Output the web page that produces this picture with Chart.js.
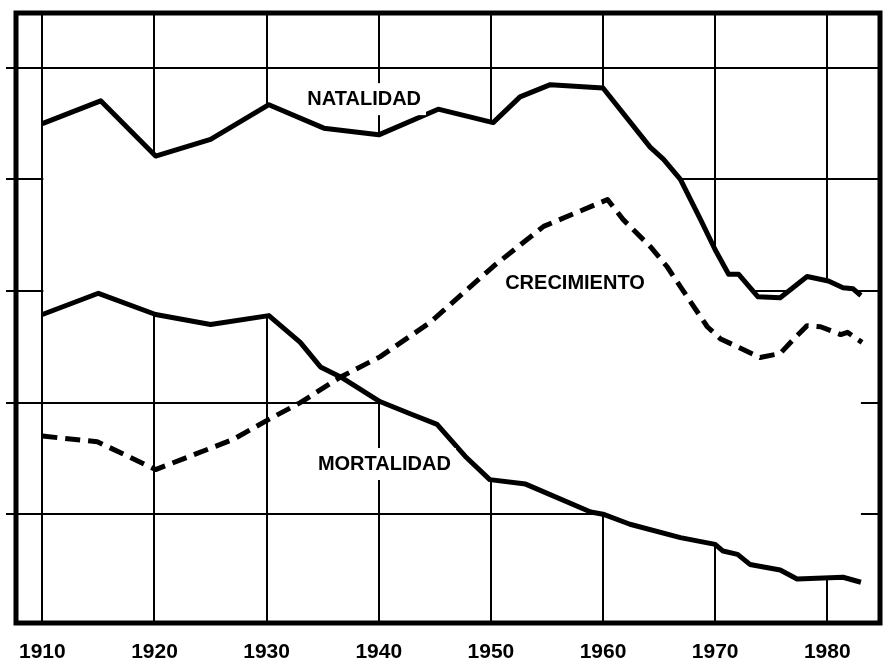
<!DOCTYPE html>
<html>
<head>
<meta charset="utf-8">
<script src="https://cdn.jsdelivr.net/npm/chart.js@4/dist/chart.umd.min.js"></script>
<style>
  html, body { margin: 0; padding: 0; background: #fff; }
  #wrap { width: 883px; height: 663px; }
</style>
</head>
<body>
<div id="wrap"><canvas id="chart" width="883" height="663"></canvas></div>
<script>
// ── Data ───────────────────────────────────────────────────────────────────
const TICK_YEARS = [1910, 1920, 1930, 1940, 1950, 1960, 1970, 1980];
const Y_GRID     = [10, 20, 30, 40, 50];

const NAT_YEARS  = [1910, 1915.2, 1920.1, 1925, 1930.2, 1935.1, 1940, 1945.3, 1950.2, 1952.6, 1955.3,
                    1960, 1964.2, 1965.4, 1966.9, 1968.7, 1970, 1971.2, 1972.1, 1973.8, 1975.8,
                    1978.2, 1980.1, 1981.4, 1982.3, 1983];
const NAT_VALUES = [45.0, 47.05, 42.1, 43.6, 46.7, 44.6, 44.0, 46.3, 45.1, 47.4, 48.5,
                    48.2, 42.9, 41.8, 40.0, 36.4, 33.7, 31.5, 31.5, 29.5, 29.4,
                    31.3, 30.9, 30.3, 30.2, 29.6];

const MORT_YEARS  = [1910, 1915, 1920.1, 1925, 1930.2, 1933, 1934.8, 1936.6, 1940.1, 1942.8, 1945.2,
                     1947.7, 1949.9, 1953.1, 1958.9, 1960, 1962.4, 1966.9, 1970, 1970.7, 1972,
                     1973.1, 1975.8, 1977.3, 1981.4, 1983];
const MORT_VALUES = [27.9, 29.8, 27.9, 27.0, 27.8, 25.4, 23.2, 22.3, 20.1, 19.0, 18.05,
                     15.2, 13.1, 12.7, 10.2, 10.0, 9.1, 7.9, 7.3, 6.7, 6.4,
                     5.5, 5.0, 4.2, 4.35, 3.9];

const CREC_YEARS  = [1910, 1914.9, 1920.1, 1927, 1930.2, 1933, 1936.6, 1940.1, 1944.6, 1950.2, 1954.7,
                     1960.4, 1961.8, 1964.2, 1965.7, 1966.9, 1969.3, 1970.5, 1972, 1974, 1975.8,
                     1977, 1978.2, 1979.4, 1981.2, 1981.8, 1983.1];
const CREC_VALUES = [17.0, 16.5, 14.0, 16.7, 18.5, 20.0, 22.3, 24.1, 27.2, 32.2, 35.8,
                     38.2, 36.4, 34.0, 32.2, 30.4, 26.8, 25.7, 25.0, 24.05, 24.4,
                     25.7, 26.9, 26.8, 26.1, 26.3, 25.4];

// series captions, anchored in data space
const LABEL_TEXTS  = ['NATALIDAD', 'CRECIMIENTO', 'MORTALIDAD'];
const LABEL_YEARS  = [1938.7, 1957.5, 1940.5];
const LABEL_VALUES = [47.2, 30.7, 14.5];
const LABEL_BOXED  = [true, false, true];

// ── Helpers ────────────────────────────────────────────────────────────────
const FONT = "'Liberation Sans', Arial, Helvetica, sans-serif";
const toPoints = (xs, ys) => xs.map((x, i) => ({ x, y: ys[i] }));

// grid from the scales' ticks, then a white band between natality and
// mortality so the grid only shows outside it
const gridBandPlugin = {
  id: 'gridBand',
  beforeDatasetsDraw(chart) {
    const { ctx, chartArea: a, scales: { x, y } } = chart;
    ctx.save();
    ctx.strokeStyle = '#000';
    ctx.lineWidth = 2;
    ctx.beginPath();
    x.ticks.forEach(t => {
      const px = Math.round(x.getPixelForValue(t.value));
      ctx.moveTo(px, a.top);
      ctx.lineTo(px, a.bottom);
    });
    y.ticks.forEach(t => {
      const py = Math.round(y.getPixelForValue(t.value));
      ctx.moveTo(a.left - 10, py);
      ctx.lineTo(a.right, py);
    });
    ctx.stroke();

    const top = chart.getDatasetMeta(2).data;
    const bot = chart.getDatasetMeta(1).data;
    const x0 = x.getPixelForValue(NAT_YEARS[0]) + 1;
    ctx.beginPath();
    ctx.rect(x0, a.top, a.right - x0, a.bottom - a.top);
    ctx.clip();
    ctx.beginPath();
    top.forEach((p, i) => (i ? ctx.lineTo(p.x, p.y) : ctx.moveTo(p.x, p.y)));
    for (let i = bot.length - 1; i >= 0; i--) ctx.lineTo(bot[i].x, bot[i].y);
    ctx.closePath();
    ctx.fillStyle = '#fff';
    ctx.fill();
    ctx.restore();
  },
};

// frame round the plot area
const framePlugin = {
  id: 'frame',
  afterDraw(chart) {
    const { ctx, chartArea: a } = chart;
    ctx.save();
    ctx.strokeStyle = '#000';
    ctx.lineWidth = 5;
    ctx.strokeRect(a.left, a.top, a.right - a.left, a.bottom - a.top);
    ctx.restore();
  },
};

// text captions on the curves
const captionPlugin = {
  id: 'captions',
  afterDatasetsDraw(chart) {
    const { ctx, scales: { x, y } } = chart;
    ctx.save();
    ctx.font = `bold 20px ${FONT}`;
    ctx.textAlign = 'center';
    ctx.textBaseline = 'middle';
    LABEL_TEXTS.forEach((txt, i) => {
      const px = x.getPixelForValue(LABEL_YEARS[i]);
      const py = y.getPixelForValue(LABEL_VALUES[i]);
      if (LABEL_BOXED[i]) {
        const w = ctx.measureText(txt).width + 10;
        ctx.fillStyle = '#fff';
        ctx.fillRect(px - w / 2, py - 16, w, 32);
      }
      ctx.fillStyle = '#000';
      ctx.fillText(txt, px, py);
    });
    ctx.restore();
  },
};

// ── Chart ──────────────────────────────────────────────────────────────────
new Chart(document.getElementById('chart'), {
  type: 'line',
  data: {
    datasets: [
      {
        label: 'Crecimiento',
        data: toPoints(CREC_YEARS, CREC_VALUES),
        borderColor: '#000',
        borderWidth: 5,
        borderDash: [15, 8],
        fill: false,
      },
      {
        label: 'Mortalidad',
        data: toPoints(MORT_YEARS, MORT_VALUES),
        borderColor: '#000',
        borderWidth: 5,
        fill: false,
      },
      {
        label: 'Natalidad',
        data: toPoints(NAT_YEARS, NAT_VALUES),
        borderColor: '#000',
        borderWidth: 5,
        fill: false,
      },
    ],
  },
  options: {
    responsive: false,
    animation: false,
    layout: { padding: { left: 6, top: 13, right: 3, bottom: 0 } },
    elements: {
      point: { radius: 0, hoverRadius: 0 },
      line: { tension: 0, borderJoinStyle: 'round' },
    },
    plugins: {
      legend: { display: false },
      tooltip: { enabled: false },
    },
    scales: {
      x: {
        type: 'linear',
        min: 1907.65,
        max: 1984.7,
        afterBuildTicks: s => { s.ticks = TICK_YEARS.map(v => ({ value: v })); },
        afterFit: s => { s.height = 40; },
        grid: { display: false, drawTicks: false },
        border: { display: false },
        ticks: {
          color: '#000',
          padding: 17,
          maxRotation: 0,
          autoSkip: false,
          font: { family: FONT, size: 21, weight: 'bold' },
          callback: v => String(v),
        },
      },
      y: {
        min: 0.25,
        max: 54.92,
        afterBuildTicks: s => { s.ticks = Y_GRID.map(v => ({ value: v })); },
        afterFit: s => { s.width = 10; },
        grid: { display: false },
        border: { display: false },
        ticks: { display: false },
      },
    },
  },
  plugins: [gridBandPlugin, captionPlugin, framePlugin],
});
</script>
</body>
</html>
